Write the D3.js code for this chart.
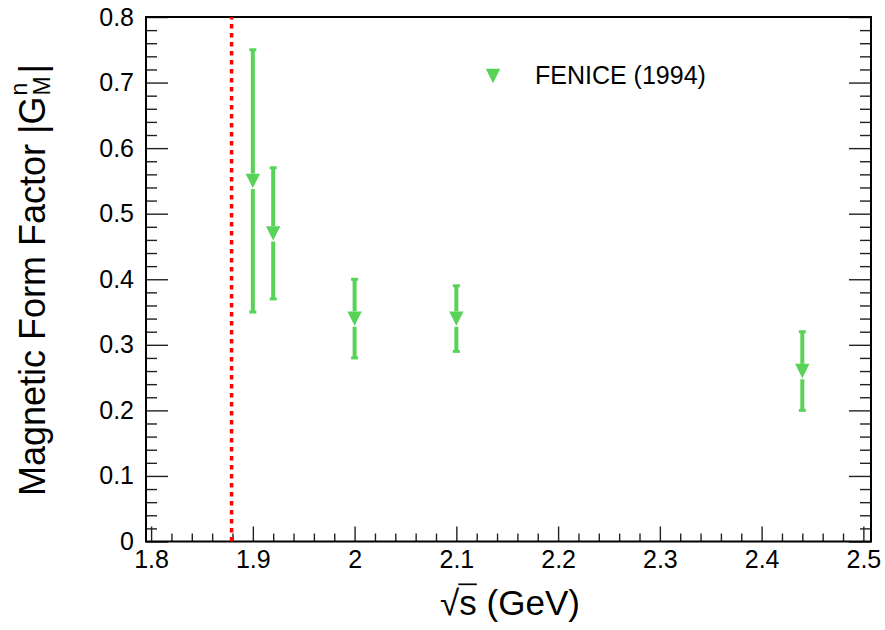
<!DOCTYPE html>
<html>
<head>
<meta charset="utf-8">
<script src="https://cdn.jsdelivr.net/npm/d3@7"></script>
<style>
  html, body { margin: 0; padding: 0; background: #fff; }
  svg { display: block; }
  text { font-family: "Liberation Sans", Arial, Helvetica, sans-serif; fill: #000; }
</style>
</head>
<body>
<svg id="chart" width="885" height="630"></svg>
<script>
// FENICE neutron magnetic form factor measurements
const energies = [1.9, 1.92, 2.0, 2.1, 2.44];       // sqrt(s) in GeV
const formFactor = [0.55, 0.47, 0.34, 0.34, 0.26];  // |G_M^n|
const formFactorErr = [0.20, 0.10, 0.06, 0.05, 0.06];

// n-nbar production threshold, 2 m_n
const threshold = 1.8791;

const xTickValues = [1.8, 1.9, 2.0, 2.1, 2.2, 2.3, 2.4, 2.5];
const xTickLabels = ["1.8", "1.9", "2", "2.1", "2.2", "2.3", "2.4", "2.5"];
const yTickValues = [0, 0.1, 0.2, 0.3, 0.4, 0.5, 0.6, 0.7, 0.8];
const yTickLabels = ["0", "0.1", "0.2", "0.3", "0.4", "0.5", "0.6", "0.7", "0.8"];
const xDomain = [1.795, 2.5075];
const yDomain = [0, 0.8];

const legendLabel = "FENICE (1994)";
const green = "#57d357";

const svg = d3.select("#chart");
const frame = { left: 146, right: 871, top: 17, bottom: 541.5 };

const x = d3.scaleLinear().domain(xDomain).range([frame.left, frame.right]);
const y = d3.scaleLinear().domain(yDomain).range([frame.bottom, frame.top]);

const tickFont = 25;

// minor tick positions
const xMinor = d3.range(1.8, 2.5001, 0.02).filter(v => Math.abs(v * 10 - Math.round(v * 10)) > 1e-6);
const yMinor = d3.range(0, 0.8001, 0.02).filter(v => Math.abs(v * 10 - Math.round(v * 10)) > 1e-6);

function styleAxis(g) {
  g.select(".domain").remove();
  g.selectAll(".tick line").attr("stroke", "#222").attr("stroke-width", 1.4);
  g.selectAll(".tick text").style("font-size", tickFont + "px").attr("fill", "#000");
}

// bottom axis
svg.append("g").attr("transform", `translate(0,${frame.bottom})`)
  .call(d3.axisBottom(x).tickValues(xTickValues)
    .tickFormat((d, i) => xTickLabels[i]).tickSize(-15).tickPadding(9))
  .call(styleAxis);
svg.append("g").attr("transform", `translate(0,${frame.bottom})`)
  .call(d3.axisBottom(x).tickValues(xMinor).tickFormat("").tickSize(-8))
  .call(styleAxis);

// left axis
svg.append("g").attr("transform", `translate(${frame.left},0)`)
  .call(d3.axisLeft(y).tickValues(yTickValues)
    .tickFormat((d, i) => yTickLabels[i]).tickSize(-22).tickPadding(12))
  .call(styleAxis);
svg.append("g").attr("transform", `translate(${frame.left},0)`)
  .call(d3.axisLeft(y).tickValues(yMinor).tickFormat("").tickSize(-11))
  .call(styleAxis);

// right axis ticks (no labels)
svg.append("g").attr("transform", `translate(${frame.right},0)`)
  .call(d3.axisRight(y).tickValues(yTickValues).tickFormat("").tickSize(-22))
  .call(styleAxis);
svg.append("g").attr("transform", `translate(${frame.right},0)`)
  .call(d3.axisRight(y).tickValues(yMinor).tickFormat("").tickSize(-11))
  .call(styleAxis);

// frame
svg.append("rect")
  .attr("x", x(xDomain[0])).attr("y", y(yDomain[1]))
  .attr("width", x(xDomain[1]) - x(xDomain[0]))
  .attr("height", y(yDomain[0]) - y(yDomain[1]))
  .attr("fill", "none").attr("stroke", "#000").attr("stroke-width", 2);

// threshold line
svg.append("line")
  .attr("x1", x(threshold)).attr("x2", x(threshold))
  .attr("y1", y(yDomain[0])).attr("y2", y(yDomain[1]))
  .attr("stroke", "#ff0000").attr("stroke-width", 3.5)
  .attr("stroke-dasharray", "4.5,4.5");

// data points with error bars
const half = 7.2;
const tri = d3.symbol().type({
  draw(ctx, size) {
    ctx.moveTo(-half, -half);
    ctx.lineTo(half, -half);
    ctx.lineTo(0, half);
    ctx.closePath();
  }
});

const pts = energies.map((e, i) => ({ e, v: formFactor[i], err: formFactorErr[i] }));
const pg = svg.append("g");
pts.forEach(p => {
  const cx = x(p.e), cy = y(p.v);
  const yTop = y(p.v + p.err), yBot = y(p.v - p.err);
  pg.append("line").attr("x1", cx).attr("x2", cx).attr("y1", yTop).attr("y2", cy - half)
    .attr("stroke", green).attr("stroke-width", 4);
  pg.append("line").attr("x1", cx).attr("x2", cx).attr("y1", cy + half + 1).attr("y2", yBot)
    .attr("stroke", green).attr("stroke-width", 4);
  [yTop, yBot].forEach(yy => {
    pg.append("line").attr("x1", cx - 3.5).attr("x2", cx + 3.5).attr("y1", yy).attr("y2", yy)
      .attr("stroke", green).attr("stroke-width", 3);
  });
  pg.append("path").attr("d", tri()).attr("transform", `translate(${cx},${cy})`)
    .attr("fill", green);
});

// legend
const lg = svg.append("g").attr("transform", "translate(493,76)");
lg.append("path").attr("d", tri()).attr("fill", green);
lg.append("text").attr("x", 42).attr("y", 8.3).style("font-size", "25px").text(legendLabel);

// x axis title: sqrt(s) (GeV)
const xt = svg.append("text")
  .attr("x", 510).attr("y", 615)
  .attr("text-anchor", "middle")
  .style("font-size", "35px")
  .text("\u221As (GeV)");
const tnode = xt.node();
const rootBox = tnode.getExtentOfChar(0);
const sBox = tnode.getExtentOfChar(1);
svg.append("line")
  .attr("x1", rootBox.x + rootBox.width - 1).attr("x2", sBox.x + sBox.width)
  .attr("y1", rootBox.y + 1.3).attr("y2", rootBox.y + 1.3)
  .attr("stroke", "#000").attr("stroke-width", 1.7);

// y axis title: Magnetic Form Factor |G^n_M|
const yt = svg.append("text")
  .attr("transform", "translate(45,280) rotate(-90)")
  .attr("text-anchor", "middle")
  .style("font-size", "36px");
yt.append("tspan").text("Magnetic Form Factor |G");
yt.append("tspan").style("font-size", "23px").attr("dx", 1).attr("dy", -18).text("n");
yt.append("tspan").style("font-size", "23px").attr("dx", -12.8).attr("dy", 23).text("M");
yt.append("tspan").attr("dx", 3).attr("dy", -5).text("|");
</script>
</body>
</html>
